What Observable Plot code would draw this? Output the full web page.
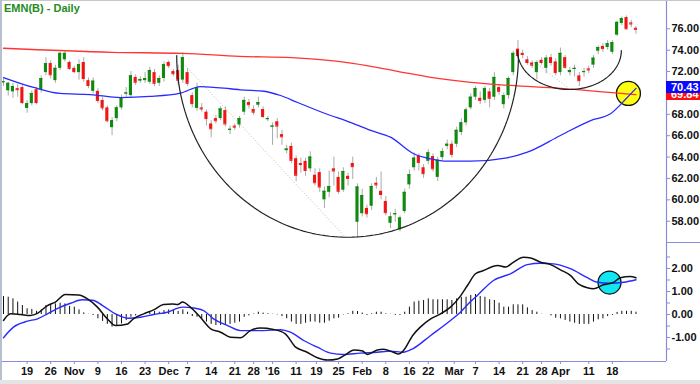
<!DOCTYPE html>
<html><head><meta charset="utf-8">
<script src="https://cdn.jsdelivr.net/npm/d3@7"></script>
<script src="https://cdn.jsdelivr.net/npm/@observablehq/plot@0.6"></script>
<style>
body{margin:0;background:#fff;}
#wrap{position:relative;width:700px;height:384px;overflow:hidden;background:#fff;font-family:"Liberation Sans",Arial,sans-serif;}
#wrap svg{position:absolute;left:0;overflow:visible;}
#wrap svg text{font-weight:bold;}
.abs{position:absolute;}
</style></head><body>
<div id="wrap"></div>
<script>
// ---- daily candles (index 0 = Oct 12 2015 ... 134 = Apr 25 2016)
const opens=[70.95,70.2,70.1,70.4,70.5,68.55,69.0,70.3,70.3,71.9,72.75,71.15,72.3,73.1,72.85,72.3,71.9,72.85,71.15,70.15,70.15,69.3,68.6,66.75,67.6,68.6,69.9,69.75,71.45,71.1,71.15,71.0,71.9,70.9,71.35,72.85,72.0,72.1,71.2,71.9,69.75,68.55,68.6,68.2,67.1,67.6,67.6,68.35,66.5,66.9,67.0,68.2,69.1,68.45,68.85,68.45,67.5,66.8,67.3,66.1,64.6,65.0,63.85,63.4,63.6,62.9,62.3,62.55,60.0,60.7,62.9,62.1,60.9,62.2,63.4,57.9,58.7,59.2,59.4,61.55,60.8,59.85,57.8,58.6,57.2,58.9,61.4,63.0,64.1,63.0,63.6,64.05,62.1,63.95,65.0,65.2,65.2,66.3,67.2,68.6,69.6,69.5,69.3,70.1,69.6,70.5,68.9,69.75,71.9,74.1,73.7,73.1,72.8,71.9,73.05,72.3,73.3,72.9,71.9,73.3,71.9,72.2,71.6,71.9,72.25,72.6,73.9,74.35,74.25,73.8,75.4,76.5,77.05,76.55,76.05];
const highs=[71.3,71.0,70.9,70.8,70.7,69.3,70.2,70.5,71.6,73.3,73.0,72.6,73.8,73.9,73.0,72.5,73.1,73.3,71.4,71.4,70.4,69.6,68.8,67.7,68.8,69.8,70.5,72.0,71.7,71.5,71.9,72.4,72.2,71.6,72.9,73.0,72.2,72.6,73.75,72.3,70.0,70.9,69.0,68.4,67.4,67.9,68.7,68.7,66.9,67.1,67.8,69.6,69.4,68.8,69.6,68.7,67.8,67.2,67.6,66.5,65.1,65.3,64.1,63.9,63.9,64.5,62.9,62.9,61.2,62.7,64.0,62.6,63.0,62.5,64.0,61.5,61.0,59.5,61.5,62.1,62.6,60.3,58.8,59.1,58.5,61.0,62.8,64.4,64.3,63.3,64.7,64.3,64.0,64.8,65.6,65.5,66.8,67.6,68.6,69.9,70.6,70.1,70.6,70.4,71.9,70.8,70.0,71.5,73.9,74.9,74.0,73.4,73.0,73.0,73.3,73.5,73.6,73.2,74.2,73.5,72.4,72.6,71.9,72.3,72.5,73.5,74.4,74.6,74.9,74.9,76.7,77.1,77.2,76.8,76.2];
const lows=[70.6,69.7,69.5,69.6,68.9,68.1,68.8,68.9,70.0,71.6,71.3,70.9,72.1,72.9,72.1,71.8,71.2,71.0,70.4,69.9,69.0,68.3,67.2,66.0,67.3,68.4,69.6,69.5,70.7,70.9,70.9,70.8,70.6,70.6,71.0,72.3,71.5,70.7,70.9,70.6,68.6,68.3,68.2,66.9,65.8,67.1,67.4,66.8,66.1,66.5,66.7,67.9,68.5,67.9,68.6,67.6,67.3,65.1,65.7,65.1,64.3,63.4,61.7,62.5,62.2,62.6,61.3,60.7,59.2,60.2,61.3,60.5,60.7,61.3,61.9,56.4,58.4,58.3,59.0,61.0,60.0,58.5,57.3,57.9,57.0,58.7,61.0,62.7,62.7,62.0,63.3,62.6,61.7,63.7,64.7,63.9,64.9,66.0,66.9,68.4,69.3,68.9,69.0,68.6,69.3,69.8,68.5,69.4,71.6,73.2,73.2,72.6,72.3,71.2,72.6,71.8,72.5,71.6,71.6,72.2,71.6,71.5,70.6,71.5,71.8,72.3,73.6,73.8,74.0,73.6,75.3,76.3,75.9,76.1,75.5];
const closes=[71.05,70.9,70.6,70.3,69.1,69.0,69.95,69.1,71.35,72.75,71.7,72.3,73.7,73.7,72.3,72.0,72.65,71.35,70.7,71.1,69.3,68.6,67.4,67.4,68.6,69.55,70.0,71.6,71.0,71.25,71.35,72.1,70.9,71.35,72.65,72.55,71.8,71.2,73.3,70.9,69.0,70.5,68.5,67.6,66.65,67.4,68.5,67.1,66.6,66.8,67.6,69.3,68.9,68.2,69.1,67.8,67.6,66.9,66.9,65.9,64.75,63.7,62.3,63.3,62.75,64.0,61.6,61.2,60.8,61.25,62.7,60.8,62.65,62.0,63.1,61.2,60.4,58.7,61.25,61.4,60.5,58.8,58.4,58.7,58.3,60.7,62.35,63.9,63.5,62.45,64.4,62.9,63.7,64.5,65.2,64.25,66.5,67.2,68.4,69.6,70.4,69.3,70.4,69.5,71.45,70.15,69.75,71.35,73.7,73.5,73.6,72.85,72.6,72.85,72.85,73.25,72.85,71.9,73.7,72.4,72.1,72.3,71.15,72.0,72.15,73.25,74.25,74.15,74.6,74.7,76.6,76.95,76.0,76.45,75.95];

// ---- moving averages (candle index, price)
const redMaIdx=[0,23,38,50,61,74,83.5,90.5,99,107.4,118,130.7,134];
const redMaVal=[74.18,73.8,73.7,73.42,73.3,72.77,72.02,71.46,70.99,70.7,70.42,69.95,69.84];
const blueMaIdx=[0,6.4,12,18.4,24.8,31,37.5,41.7,48,50.2,55.2,58.7,62.2,69.3,72.5,77.8,82,86.9,90.5,94,99,106.7,111,118,124.4,128.6,132.2,134];
const blueMaVal=[71.44,70.51,69.95,69.85,69.57,69.67,69.98,70.6,70.39,70.29,70.16,69.76,69.13,67.89,67.42,66.49,65.86,64.31,63.84,63.62,63.62,63.93,64.46,66.02,67.42,68.05,69.6,70.43];

// ---- MACD
const macdIdx=[0,1.5,3.6,5.7,7.2,9.3,11,13.1,15.9,17.8,19.9,22,23.7,26.3,27.5,29.7,31.8,33.9,35.8,36.9,37.9,39.6,41.7,43.9,46,48.1,50.2,52.3,54.4,57.2,59.7,61.9,64,66.5,68.6,70.8,72.5,74.2,76.1,77.1,79.2,80.5,82.6,83.7,84.7,86.7,88.3,90.5,92.6,94.7,96.8,98.3,100,101.7,103.8,104.7,106.4,108,110.2,111.7,113.8,115.9,118,120.1,121.8,123.7,125,127.1,129.2,130.7,132.8,134];
const macdVal=[-0.26,0.03,0.0,-0.04,0.05,0.39,0.54,0.87,0.85,0.68,0.32,-0.19,-0.48,-0.41,-0.19,0.03,0.2,0.43,0.46,0.43,0.54,0.32,-0.12,-0.62,-0.77,-0.99,-1.01,-0.7,-0.59,-0.65,-0.84,-1.42,-1.61,-1.88,-1.98,-1.93,-1.74,-1.54,-1.59,-1.74,-1.54,-1.51,-1.64,-1.72,-1.58,-0.91,-0.55,-0.19,0.03,0.32,0.8,1.26,1.77,1.91,2.1,2.13,2.06,2.27,2.49,2.46,2.27,2.17,1.94,1.7,1.33,1.16,1.12,1.29,1.39,1.6,1.65,1.6];
const sigIdx=[0,2.1,5.1,7.2,9.3,11.7,14.2,16.7,18.9,21,23.7,26.3,29,31.8,34.7,37.9,40.3,42.4,44.5,47.5,50.2,55.1,58.7,60.8,63.6,66.5,69.3,72,75.6,79.2,82,84.7,86.7,90.5,94.7,96.8,98.9,100.4,103.8,107.4,111,113.8,116.5,120.1,123.7,125.8,128.6,131.4,134];
const sigVal=[-1.01,-0.55,-0.29,-0.19,0.03,0.29,0.49,0.64,0.62,0.39,0.03,-0.16,-0.12,0.0,0.1,0.32,0.28,0.17,-0.19,-0.48,-0.7,-0.7,-0.66,-0.77,-1.13,-1.42,-1.68,-1.74,-1.68,-1.64,-1.59,-1.64,-1.49,-0.91,-0.26,0.1,0.55,0.83,1.48,1.77,2.17,2.23,2.2,1.99,1.6,1.4,1.36,1.4,1.51];
const histVal=[0.78,0.75,0.68,0.54,0.39,0.25,0.22,0.14,0.2,0.39,0.42,0.46,0.49,0.46,0.35,0.32,0.2,0.07,0.01,-0.04,-0.19,-0.3,-0.43,-0.55,-0.48,-0.41,-0.26,-0.12,-0.06,-0.01,0.03,0.1,0.13,0.1,0.17,0.2,0.17,0.13,0.2,0.1,-0.09,-0.12,-0.19,-0.33,-0.43,-0.48,-0.48,-0.48,-0.43,-0.38,-0.33,-0.12,-0.06,0.02,0.1,0.06,0.03,0.01,-0.02,-0.09,-0.19,-0.33,-0.43,-0.43,-0.38,-0.33,-0.33,-0.38,-0.38,-0.29,-0.19,-0.16,-0.02,0.03,0.14,0.13,0.06,-0.04,0.03,0.1,0.1,0.03,0.01,-0.04,-0.04,0.1,0.32,0.54,0.58,0.61,0.68,0.64,0.64,0.64,0.64,0.61,0.68,0.75,0.75,0.83,0.87,0.78,0.75,0.64,0.61,0.49,0.32,0.32,0.42,0.42,0.42,0.29,0.17,0.1,0.01,0.0,-0.06,-0.16,-0.19,-0.26,-0.33,-0.38,-0.43,-0.43,-0.43,-0.33,-0.23,-0.19,-0.09,-0.04,0.09,0.14,0.14,0.14,0.1];

// ---- axes
const tickIdx=[5,10,15,20,25,30,35,39,44,49,53,57,62,66.3,71,76,81,86,90,95.5,100,105,110,114,118,124,129];
const tickText=["19","26","Nov","9","16","23","Dec","7","14","21","28","'16","11","19","25","Feb","8","16","22","Mar","7","14","21","28","Apr","11","18"];
const priceTicks=[58,60,62,64,66,68,70,72,74,76];
const macdTicks=[-1.5,-1,-0.5,0,0.5,1,1.5,2,2.5];

// ---- annotations (index / price space)
const cupArc={ci:72.9,cp:73.5,rx:36.2,ry:17.0};
const handleArc={ci:119.9,cp:73.97,rx:11.0,ry:3.65};
const guides=[{i1:38.1,p1:72.75,i2:72.5,p2:56.48},{i1:112.7,p1:72.84,i2:120.1,p2:70.32}];
const yellowMark={i:132.4,p:69.95};
const cyanMark={i:128.4,v:1.39};
const lastBlue=70.43, lastRed=69.84;

const GREEN="#0f8a0f", RED="#f01414", LAV="#8b8bdc";
const XD=[-0.636,140.47];

const candles=opens.map((o,i)=>({i,o,h:highs[i],l:lows[i],c:closes[i],up:closes[i]>=o}));
const zip=(a,b,k)=>a.map((x,j)=>({i:x,[k]:b[j]}));
function arcPts(a){const pts=[];for(let k=0;k<=120;k++){const t=Math.PI*k/120;pts.push({i:a.ci+a.rx*Math.cos(t),p:a.cp-a.ry*Math.sin(t)});}return pts;}
const hist=histVal.map((v,i)=>({i,v}));

const wrap=document.getElementById("wrap");
const FONT='"Liberation Sans",Arial,sans-serif';

const price=Plot.plot({
  width:700,height:242,marginLeft:0,marginRight:34,marginTop:0,marginBottom:0,
  x:{domain:XD,axis:null},
  y:{domain:[56.01,78.647]},
  color:{type:"identity"},
  style:{fontFamily:FONT,fontSize:"11px",background:"transparent"},
  marks:[
    Plot.link(guides,{x1:"i1",y1:"p1",x2:"i2",y2:"p2",stroke:"#bbb",strokeWidth:1,strokeDasharray:"1,2"}),
    Plot.ruleX(candles,{x:"i",y1:"l",y2:"h",stroke:"#aaa",strokeWidth:1}),
    Plot.rect(candles,{x1:d=>d.i-0.33,x2:d=>d.i+0.33,y1:d=>Math.min(d.o,d.c),y2:d=>Math.max(d.o,d.c),fill:d=>d.up?GREEN:RED}),
    Plot.ruleY(candles,{y:"c",x1:d=>d.i-0.33,x2:d=>d.i+0.33,stroke:d=>d.up?GREEN:RED,strokeWidth:1}),
    Plot.dot([yellowMark],{x:"i",y:"p",r:12,fill:"#ffff10",stroke:"#111",strokeWidth:1.3}),
    Plot.line(zip(redMaIdx,redMaVal,"p"),{x:"i",y:"p",stroke:"#ff3535",strokeWidth:1.3,curve:"monotone-x"}),
    Plot.line(zip(blueMaIdx,blueMaVal,"p"),{x:"i",y:"p",stroke:"#2a2aff",strokeWidth:1.3,curve:"monotone-x"}),
    Plot.line(arcPts(cupArc),{x:"i",y:"p",stroke:"#222",strokeWidth:1.2}),
    Plot.line(arcPts(handleArc),{x:"i",y:"p",stroke:"#222",strokeWidth:1.2}),
    Plot.ruleX([XD[1]],{stroke:LAV,strokeWidth:1.2}),
    Plot.axisY({anchor:"right",label:null,ticks:priceTicks,tickFormat:d=>d===70?"":d.toFixed(2),tickSize:3,tickPadding:2,stroke:LAV,fill:"#111"})
  ]
});
price.style.top="0px";
wrap.appendChild(price);

const macd=Plot.plot({
  width:700,height:142,marginLeft:0,marginRight:34,marginTop:0,marginBottom:23,
  x:{domain:XD},
  y:{domain:[-2.043,3.13]},
  style:{fontFamily:FONT,fontSize:"11px",background:"transparent"},
  marks:[
    Plot.ruleX(hist,{x:"i",y1:0,y2:"v",stroke:"#111",strokeWidth:1}),
    Plot.dot([cyanMark],{x:"i",y:"v",r:11.5,fill:"#12e6f0",stroke:"#111",strokeWidth:1.3}),
    Plot.line(zip(sigIdx,sigVal,"v"),{x:"i",y:"v",stroke:"#2a2aff",strokeWidth:1.4,curve:"monotone-x"}),
    Plot.line(zip(macdIdx,macdVal,"v"),{x:"i",y:"v",stroke:"#111",strokeWidth:1.5,curve:"monotone-x"}),
    Plot.ruleY([-2.043],{stroke:LAV,strokeWidth:1.2}),
    Plot.ruleX([XD[1]],{stroke:LAV,strokeWidth:1.2}),
    Plot.axisY({anchor:"right",label:null,ticks:macdTicks,tickFormat:d=>Number.isInteger(d)?d.toFixed(2):"",tickSize:3,tickPadding:2,stroke:LAV,fill:"#111"}),
    Plot.axisX({anchor:"bottom",label:null,ticks:tickIdx,tickFormat:d=>tickText[tickIdx.indexOf(d)],tickSize:3,tickPadding:3,stroke:LAV,fill:"#111"})
  ]
});
macd.style.top="242px";
wrap.appendChild(macd);

// price boxes on the right axis, placed through the plot's own scale
const ys=price.scale("y");
function rect(l,t,w,h,bg){const d=document.createElement("div");d.className="abs";Object.assign(d.style,{left:l+"px",top:t+"px",width:w+"px",height:h+"px",background:bg,overflow:"hidden"});wrap.appendChild(d);return d;}
const yBlue=ys.apply(lastBlue), yRed=ys.apply(lastRed);
const blueTop=yBlue-6.5, blueBottom=blueTop+12;
// red box: only the part not covered by the blue box is drawn, its label clipped the same way
const redTop=yRed-6.5;
const redVis=rect(666,blueBottom,34,Math.max(0,redTop+12-blueBottom),"#ff1010");
const redTxt=document.createElement("div");
Object.assign(redTxt.style,{position:"absolute",left:"5px",top:(redTop-blueBottom)+"px",height:"12px",lineHeight:"12px",color:"#fff",font:"bold 11px "+FONT});
redTxt.textContent=lastRed.toFixed(2);
redVis.appendChild(redTxt);
const blueBox=rect(666,blueTop,34,12,"#0a0aff");
Object.assign(blueBox.style,{color:"#fff",font:"bold 11px "+FONT,lineHeight:"12px",paddingLeft:"5px",boxSizing:"border-box"});
blueBox.textContent=lastBlue.toFixed(2);

rect(666,242,34,1,LAV);
rect(0,0,700,1,"#c8c8c8");
rect(0,0,2,380,"#b8c0d0");
rect(0,380,700,4,"#e4e4e4");

const title=document.createElement("div");
title.className="abs";
Object.assign(title.style,{left:"4px",top:"2px",font:"bold 11px "+FONT,color:"#238c23"});
title.textContent="EMN(B) - Daily";
wrap.appendChild(title);
</script>
</body></html>
